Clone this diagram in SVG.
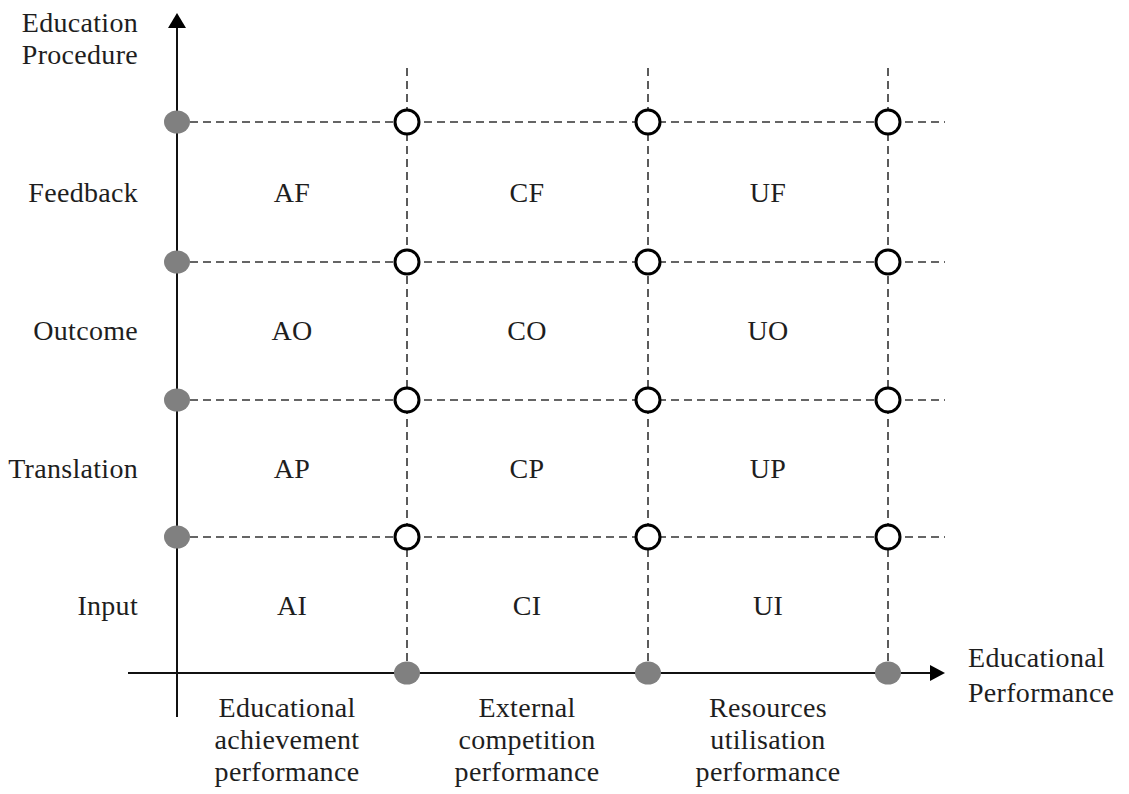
<svg xmlns="http://www.w3.org/2000/svg" width="1129" height="794" viewBox="0 0 1129 794">
<style>
text{font-family:"Liberation Serif","Times New Roman",serif;font-size:28px;fill:#1e1e1e;letter-spacing:0.3px}
.l{text-anchor:end}
.c{text-anchor:middle}
.d{stroke:#333;stroke-width:1.6;stroke-dasharray:8,5;fill:none}
.ax{stroke:#111;stroke-width:2;fill:none}
.g{fill:#808080}
.o{fill:#fff;stroke:#000;stroke-width:3}
</style>
<rect width="1129" height="794" fill="#fff"/>
<g id="connectors">
<line class="d" x1="190" y1="122" x2="945" y2="122"/>
<line class="d" x1="190" y1="262" x2="945" y2="262"/>
<line class="d" x1="190" y1="400" x2="945" y2="400"/>
<line class="d" x1="190" y1="537" x2="945" y2="537"/>
<line class="d" x1="407" y1="68" x2="407" y2="673"/>
<line class="d" x1="648" y1="68" x2="648" y2="673"/>
<line class="d" x1="888" y1="68" x2="888" y2="673"/>
<line class="ax" x1="177" y1="717" x2="177" y2="28"/>
<path d="M168,28 L177,13 L186,28 z" fill="#000"/>
<line class="ax" x1="128" y1="673" x2="930" y2="673"/>
<path d="M930,665 L945,673 L930,681 z" fill="#000"/>
</g>
<g id="y-nodes">
<ellipse class="g" cx="177" cy="122" rx="13" ry="11.5"/>
<ellipse class="g" cx="177" cy="262" rx="13" ry="11.5"/>
<ellipse class="g" cx="177" cy="400" rx="13" ry="11.5"/>
<ellipse class="g" cx="177" cy="537" rx="13" ry="11.5"/>
</g>
<g id="x-nodes">
<ellipse class="g" cx="407" cy="673" rx="13" ry="11.5"/>
<ellipse class="g" cx="648" cy="673" rx="13" ry="11.5"/>
<ellipse class="g" cx="888" cy="673" rx="13" ry="11.5"/>
</g>
<g id="grid-nodes">
<ellipse class="o" cx="407" cy="122" rx="12" ry="12"/>
<ellipse class="o" cx="648" cy="122" rx="12" ry="12"/>
<ellipse class="o" cx="888" cy="122" rx="12" ry="12"/>
<ellipse class="o" cx="407" cy="262" rx="12" ry="12"/>
<ellipse class="o" cx="648" cy="262" rx="12" ry="12"/>
<ellipse class="o" cx="888" cy="262" rx="12" ry="12"/>
<ellipse class="o" cx="407" cy="400" rx="12" ry="12"/>
<ellipse class="o" cx="648" cy="400" rx="12" ry="12"/>
<ellipse class="o" cx="888" cy="400" rx="12" ry="12"/>
<ellipse class="o" cx="407" cy="537" rx="12" ry="12"/>
<ellipse class="o" cx="648" cy="537" rx="12" ry="12"/>
<ellipse class="o" cx="888" cy="537" rx="12" ry="12"/>
</g>
<g id="y-labels">
<text class="l" x="138" y="32">Education</text>
<text class="l" x="138" y="64">Procedure</text>
<text class="l" x="138" y="202">Feedback</text>
<text class="l" x="138" y="340">Outcome</text>
<text class="l" x="138" y="478">Translation</text>
<text class="l" x="138" y="615">Input</text>
</g>
<g id="cells">
<text class="c" x="292" y="202">AF</text>
<text class="c" x="527" y="202">CF</text>
<text class="c" x="768" y="202">UF</text>
<text class="c" x="292" y="340">AO</text>
<text class="c" x="527" y="340">CO</text>
<text class="c" x="768" y="340">UO</text>
<text class="c" x="292" y="478">AP</text>
<text class="c" x="527" y="478">CP</text>
<text class="c" x="768" y="478">UP</text>
<text class="c" x="292" y="615">AI</text>
<text class="c" x="527" y="615">CI</text>
<text class="c" x="768" y="615">UI</text>
</g>
<g id="x-labels">
<text class="c" x="287" y="717">Educational</text>
<text class="c" x="287" y="749">achievement</text>
<text class="c" x="287" y="781">performance</text>
<text class="c" x="527" y="717">External</text>
<text class="c" x="527" y="749">competition</text>
<text class="c" x="527" y="781">performance</text>
<text class="c" x="768" y="717">Resources</text>
<text class="c" x="768" y="749">utilisation</text>
<text class="c" x="768" y="781">performance</text>
<text x="968" y="667">Educational</text>
<text x="968" y="702">Performance</text>
</g>
</svg>
